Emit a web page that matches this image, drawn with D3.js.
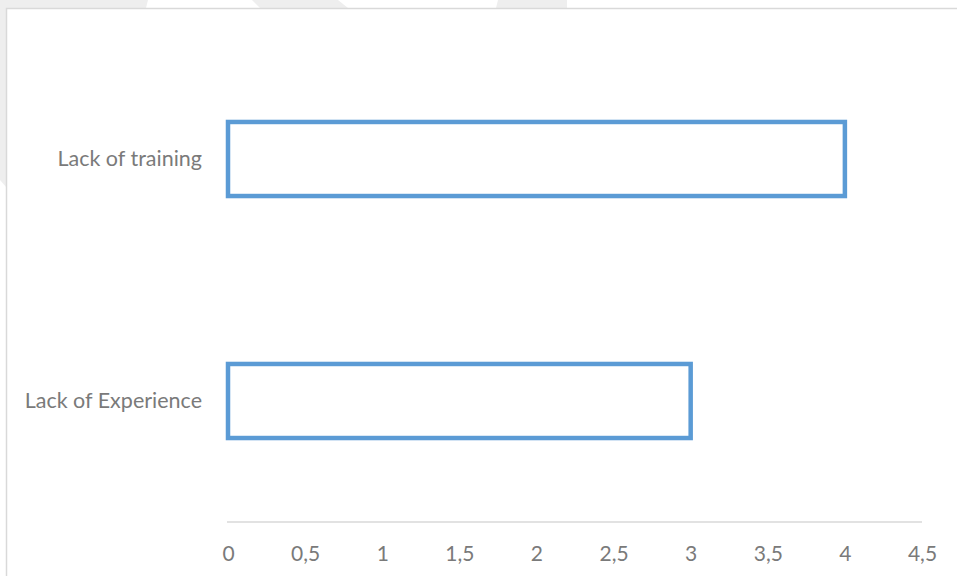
<!DOCTYPE html>
<html>
<head>
<meta charset="utf-8">
<script src="https://cdn.jsdelivr.net/npm/d3@7/dist/d3.min.js"></script>
<style>
  html, body { margin: 0; padding: 0; background: #ffffff; }
  svg { display: block; }
</style>
</head>
<body>
<svg id="chart" width="957" height="576"></svg>
<script>
// Survey causes and their counts
const categories = ["Lack of training", "Lack of Experience"];
const values = [4, 3];
const tickValues = [0, 0.5, 1, 1.5, 2, 2.5, 3, 3.5, 4, 4.5];

const W = 957, H = 576;
const svg = d3.select("#chart");
const font = "Lato, 'Open Sans', sans-serif";
const textColor = "#7a7a7a";

// Page background with decorative bands behind the chart frame
svg.append("rect").attr("width", W).attr("height", H).attr("fill", "#ffffff");
const bands = [
  [[0, 0], [148, 0], [146, 8], [7, 8], [7, 188], [0, 180]],
  [[252, 0], [338, 0], [348, 8], [260, 8]],
  [[498, 0], [567, 0], [567, 8], [496, 8]]
];
svg.selectAll("polygon.band").data(bands).join("polygon")
  .attr("class", "band")
  .attr("points", d => d.map(p => p.join(",")).join(" "))
  .attr("fill", "#eeeeee");

// Chart frame
svg.append("rect")
  .attr("x", 6.5).attr("y", 8.5)
  .attr("width", W + 10).attr("height", H + 10)
  .attr("fill", "#ffffff")
  .attr("stroke", "#d9d9d9")
  .attr("stroke-width", 1.5);

// Plot area
const plot = { left: 228, right: 922, top: 38, bottom: 522 };

const x = d3.scaleLinear().domain([0, 4.5]).range([plot.left, plot.right]);
const y = d3.scaleBand().domain(categories).range([plot.top, plot.bottom])
  .paddingInner(0.694).paddingOuter(0.347);

// Horizontal axis: baseline plus tick labels
const xAxis = d3.axisBottom(x)
  .tickValues(tickValues)
  .tickSize(0)
  .tickPadding(24)
  .tickFormat(d => String(d).replace(".", ","));

const gx = svg.append("g")
  .attr("transform", `translate(0,${plot.bottom})`)
  .call(xAxis);
gx.select(".domain").attr("stroke", "#d9d9d9").attr("stroke-width", 1.5)
  .attr("d", `M${x(0) - 1},0H${x(4.5)}`);
gx.selectAll("text")
  .attr("fill", textColor)
  .style("font-family", font)
  .style("font-size", "21px");

// Category labels
const yAxis = d3.axisLeft(y).tickSize(0).tickPadding(26);
const gy = svg.append("g")
  .attr("transform", `translate(${plot.left},0)`)
  .call(yAxis);
gy.select(".domain").remove();
gy.selectAll("text")
  .attr("fill", textColor)
  .style("font-family", font)
  .style("font-size", "21.5px");

// Outlined bars
svg.append("g").selectAll("rect.bar")
  .data(categories.map((c, i) => ({ c, v: values[i] })))
  .join("rect")
  .attr("class", "bar")
  .attr("x", x(0))
  .attr("y", d => y(d.c))
  .attr("width", d => x(d.v) - x(0))
  .attr("height", y.bandwidth())
  .attr("fill", "none")
  .attr("stroke", "#5b9bd5")
  .attr("stroke-width", 4.5);
</script>
</body>
</html>
